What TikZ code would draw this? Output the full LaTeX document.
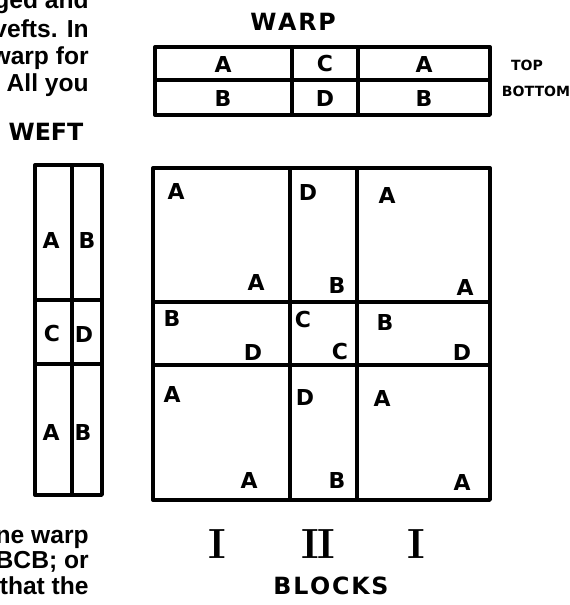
\documentclass[tikz,border=0pt]{standalone}
\usepackage{fontspec}
\newfontfamily\handfont{DejaVu Sans}
\newfontfamily\bodyfont{Liberation Sans}
\begin{document}
\begin{tikzpicture}[
  x=0.02cm, y=-0.02cm,
  gridline/.style = {line width=1.9pt, line cap=round, line join=round},
  cell/.style = {font=\handfont\bfseries\fontsize{12.5}{13}\selectfont, inner sep=0pt},
  small/.style = {font=\handfont\bfseries\fontsize{8}{9}\selectfont, inner sep=0pt},
  head/.style = {font=\handfont\bfseries\fontsize{13.5}{14}\selectfont, inner sep=0pt},
  roman/.style = {font=\bfseries\fontsize{24}{25}\selectfont, inner sep=0pt},
  body/.style = {font=\bodyfont\bfseries\fontsize{14}{15}\selectfont, inner sep=0pt, anchor=base east}
]
  \useasboundingbox (0,0) rectangle (570,605);
  % side text
  \node[body] (t1) at (89,9) {ged and};
  \node[body] (t2) at (89,37) {vefts. In};
  \node[body] (t3) at (89,64) {warp for};
  \node[body] (t4) at (89,91) {All you};
  \node[body] (b1) at (89,543) {ne warp};
  \node[body] (b2) at (89,568) {BCB; or};
  \node[body] (b3) at (89,594) {that the};
  % warp
  \node[head] (warp) at (293,22) {W\kern1pt A\kern1pt R\kern1pt P};
  \draw[gridline] (155,47) rectangle (490,115);
  \draw[gridline] (155,80) -- (490,80);
  \draw[gridline] (292,47) -- (292,115);
  \draw[gridline] (358,47) -- (358,115);
  \node[cell] (wa1) at (223,64) {A};
  \node[cell] (wc) at (325,64) {C};
  \node[cell] (wa2) at (424,64) {A};
  \node[cell] (wb1) at (223,98) {B};
  \node[cell] (wd) at (325,98) {D};
  \node[cell] (wb2) at (424,98) {B};
  \node[small] (top) at (527,65) {TOP};
  \node[small] (bottom) at (536,91) {BOTTOM};
  % weft
  \node[head] (weft) at (46,132) {WEFT};
  \draw[gridline] (35,165) rectangle (102,495);
  \draw[gridline] (72,165) -- (72,495);
  \draw[gridline] (35,300) -- (102,300);
  \draw[gridline] (35,364) -- (102,364);
  \node[cell] (fa1) at (51,240) {A};
  \node[cell] (fb1) at (87,240) {B};
  \node[cell] (fc) at (52,334) {C};
  \node[cell] (fd) at (84,334) {D};
  \node[cell] (fa2) at (51,432) {A};
  \node[cell] (fb2) at (83,432) {B};
  % blocks
  \draw[gridline] (153,168) rectangle (490,500);
  \draw[gridline] (290,168) -- (290,500);
  \draw[gridline] (357,168) -- (357,500);
  \draw[gridline] (153,302) -- (490,302);
  \draw[gridline] (153,365) -- (490,365);
  \node[cell] (a11) at (176,191) {A};
  \node[cell] (a12) at (256,282) {A};
  \node[cell] (d21) at (308,192) {D};
  \node[cell] (b22) at (337,285) {B};
  \node[cell] (a31) at (387,195) {A};
  \node[cell] (a32) at (465,287) {A};
  \node[cell] (b41) at (172,318) {B};
  \node[cell] (d42) at (253,352) {D};
  \node[cell] (c51) at (303,320) {C};
  \node[cell] (c52) at (340,352) {C};
  \node[cell] (b61) at (385,322) {B};
  \node[cell] (d62) at (462,352) {D};
  \node[cell] (a71) at (172,394) {A};
  \node[cell] (a72) at (249,480) {A};
  \node[cell] (d81) at (305,397) {D};
  \node[cell] (b82) at (337,480) {B};
  \node[cell] (a91) at (382,398) {A};
  \node[cell] (a92) at (462,482) {A};
  % numerals
  \node[roman] (n1) at (217,544) {I};
  \node[roman] (n2) at (318,544) {I\kern-1pt I};
  \node[roman] (n3) at (416,544) {I};
  \node[head] (blocks) at (331,586) {B\kern1pt L\kern1pt O\kern1pt C\kern1pt K\kern1pt S};
\end{tikzpicture}
\end{document}
